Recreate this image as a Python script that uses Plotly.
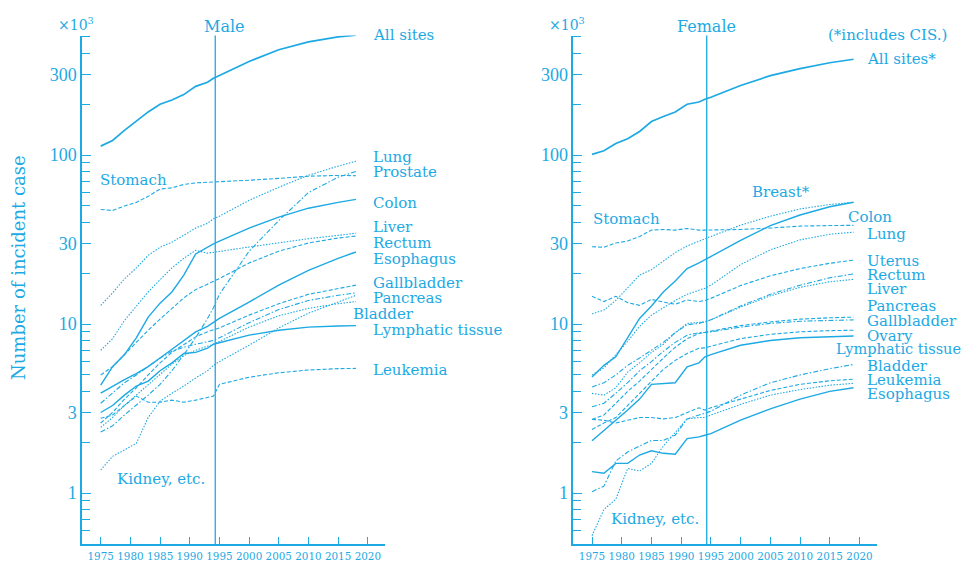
import math
import plotly.graph_objects as go

# ---------------- data (x10^3 incident cases) ----------------
M_YEARS = [1975, 1977, 1979, 1981, 1983, 1985, 1987, 1989, 1991, 1993, 1994, 1995, 2000, 2005, 2010, 2015, 2018]
M_ALL       = [113, 122, 140, 158, 180, 200, 212, 228, 255, 270, 285, 296, 358, 420, 468, 500, 512]
M_STOMACH   = [47.7, 47, 50, 52.5, 57, 63, 64, 67, 68.5, 69, 69.4, 69.7, 71, 72.8, 75, 75.8, 75.5]
M_LUNG      = [12.9, 15.3, 18.5, 21.5, 25.5, 28.5, 30.5, 33.5, 37, 39.5, 42, 43.5, 54, 64.5, 76, 86, 92]
M_PROSTATE  = [2.3, 2.5, 2.9, 3.3, 3.8, 4.4, 5.3, 6.6, 8.3, 10.8, 12.5, 15, 27, 41, 60, 74, 80]
M_COLON     = [4.35, 5.6, 6.6, 8.3, 11.0, 13.3, 15.5, 19.5, 26, 28.7, 29.8, 31, 37, 43, 48.5, 52.5, 54.7]
M_LIVER     = [7.0, 8.2, 10.5, 12.8, 15.5, 18.3, 21.5, 24.5, 27.3, 26.3, 26.5, 26.9, 28.6, 30.3, 32, 33.5, 34.5]
M_RECTUM    = [5.0, 5.6, 6.6, 7.8, 9.2, 10.7, 12.3, 14.3, 16, 17.2, 17.8, 18.6, 23, 27, 30.2, 32.3, 33.2]
M_ESOPHAGUS = [3.9, 4.3, 4.7, 5.1, 5.6, 6.3, 7.1, 8.0, 9.0, 9.7, 10.3, 10.8, 13.5, 17, 20.8, 24.5, 26.7]
M_GALL      = [2.6, 3.0, 3.6, 4.2, 5.0, 5.9, 6.8, 7.6, 8.4, 9.0, 9.2, 9.5, 11.3, 13.2, 15, 16.3, 17]
M_PANCREAS  = [3.4, 3.9, 4.5, 5.0, 5.6, 6.3, 6.9, 7.3, 7.6, 7.9, 8.0, 8.3, 10.2, 12.2, 13.8, 14.8, 15.3]
M_BLADDER   = [2.45, 2.8, 3.3, 3.8, 4.4, 5.1, 5.8, 6.5, 7.0, 7.4, 7.6, 7.9, 9.6, 11.2, 12.4, 13.2, 13.6]
M_LYMPH     = [3.0, 3.3, 3.8, 4.3, 4.6, 5.3, 5.9, 6.7, 6.8, 7.2, 7.6, 7.75, 8.6, 9.2, 9.6, 9.75, 9.8]
M_LEUKEMIA  = [2.77, 2.9, 3.3, 3.75, 3.45, 3.45, 3.55, 3.45, 3.55, 3.7, 3.75, 4.4, 4.85, 5.15, 5.35, 5.45, 5.47]
M_KIDNEY    = [1.37, 1.65, 1.8, 1.97, 2.8, 3.5, 3.9, 4.3, 4.8, 5.3, 5.7, 6.0, 7.5, 9.5, 11.6, 13.6, 14.8]

F_YEARS = [1975, 1977, 1979, 1981, 1983, 1985, 1987, 1989, 1991, 1993, 1994, 1995, 2000, 2005, 2010, 2015, 2019]
F_ALL       = [101, 106, 117, 125, 138, 158, 169, 180, 200, 206, 214, 220, 258, 295, 325, 352, 369]
F_STOMACH   = [28.7, 28.5, 30.2, 31, 33, 36, 36.3, 36, 36.8, 36, 36, 36, 36.3, 37, 38, 38.3, 38.4]
F_BREAST    = [11.5, 12.1, 13.8, 16.5, 19.5, 21, 23.5, 26.5, 29, 31, 32, 33, 38.5, 43.5, 48, 51, 52.6]
F_COLON     = [4.87, 5.7, 6.4, 8.3, 10.8, 12.8, 15.5, 18.0, 21.3, 23.0, 24, 25, 31.3, 38.3, 44.2, 49.5, 52.6]
F_LUNG      = [5.0, 5.5, 6.6, 7.9, 9.7, 11.3, 12.5, 13.8, 15, 15.8, 16.3, 17, 22.5, 27.5, 31.5, 34, 35]
F_UTERUS    = [14.6, 13.6, 14.6, 13.4, 12.9, 14.0, 13.5, 13.1, 13.9, 13.6, 13.8, 14.2, 16.9, 19.3, 21.3, 22.9, 23.9]
F_RECTUM    = [4.25, 4.5, 5.0, 5.7, 6.3, 7.0, 7.8, 8.9, 9.9, 10.1, 10.3, 10.6, 12.8, 15.0, 17.0, 18.8, 19.8]
F_LIVER     = [3.89, 3.8, 4.2, 5.2, 5.9, 6.8, 7.6, 8.9, 10.1, 10.2, 10.3, 10.6, 12.6, 14.7, 16.5, 17.8, 18.4]
F_PANCREAS  = [2.73, 2.9, 3.4, 4.0, 4.6, 5.4, 6.3, 7.3, 8.2, 8.8, 8.94, 9.1, 9.8, 10.3, 10.7, 10.9, 11.0]
F_GALL      = [3.24, 3.4, 3.9, 4.5, 5.3, 6.0, 6.9, 7.8, 8.6, 8.9, 8.94, 9.0, 9.6, 10.1, 10.4, 10.55, 10.6]
F_OVARY     = [2.38, 2.6, 2.8, 3.3, 3.9, 4.6, 5.4, 6.1, 6.7, 7.2, 7.23, 7.4, 8.2, 8.7, 9.0, 9.15, 9.2]
F_LYMPH     = [2.04, 2.36, 2.7, 3.1, 3.6, 4.4, 4.46, 4.5, 5.58, 5.9, 6.4, 6.6, 7.5, 8.0, 8.3, 8.45, 8.5]
F_BLADDER   = [1.02, 1.1, 1.55, 1.75, 1.9, 2.05, 2.05, 2.2, 2.75, 2.9, 2.95, 3.05, 3.8, 4.5, 5.0, 5.45, 5.77]
F_LEUKEMIA  = [2.73, 2.7, 2.6, 2.7, 2.8, 2.8, 2.75, 2.8, 3.0, 3.2, 3.1, 3.2, 3.6, 4.05, 4.4, 4.62, 4.72]
F_KIDNEY    = [0.56, 0.8, 0.92, 1.4, 1.35, 1.5, 1.9, 2.3, 2.75, 2.8, 2.8, 2.9, 3.35, 3.8, 4.1, 4.35, 4.46]
F_ESOPHAGUS = [1.34, 1.31, 1.5, 1.5, 1.68, 1.78, 1.72, 1.7, 2.1, 2.15, 2.2, 2.25, 2.7, 3.15, 3.6, 4.0, 4.2]

DIVIDER_YEAR = 1994.3
X_TICKS = [1975, 1980, 1985, 1990, 1995, 2000, 2005, 2010, 2015, 2020]
Y_TICKS = [1, 3, 10, 30, 100, 300]
Y_MINOR = [0.6, 0.7, 0.8, 0.9, 2, 4, 5, 6, 7, 8, 9, 20, 40, 50, 60, 70, 80, 90, 200, 400, 500]

# ---------------- styling ----------------
C = "#1DA9E3"
SERIF = "DejaVu Serif"
STY = {
    "solid": dict(color=C, width=1.4, dash="solid"),
    "thick": dict(color=C, width=1.7, dash="solid"),
    "dash": dict(color=C, width=1.1, dash="4px,2px"),
    "dot": dict(color=C, width=1.1, dash="1.5px,1.5px"),
    "dashdot": dict(color=C, width=1.1, dash="5px,2px,1.5px,2px"),
}

male = [
    (M_ALL, "thick"), (M_STOMACH, "dash"), (M_LUNG, "dot"), (M_PROSTATE, "dashdot"),
    (M_COLON, "solid"), (M_LIVER, "dot"), (M_RECTUM, "dash"), (M_ESOPHAGUS, "solid"),
    (M_GALL, "dash"), (M_PANCREAS, "dashdot"), (M_BLADDER, "dot"), (M_LYMPH, "solid"),
    (M_LEUKEMIA, "dash"), (M_KIDNEY, "dot"),
]
female = [
    (F_ALL, "thick"), (F_STOMACH, "dash"), (F_BREAST, "dot"), (F_COLON, "solid"),
    (F_LUNG, "dot"), (F_UTERUS, "dash"), (F_RECTUM, "dashdot"), (F_LIVER, "dot"),
    (F_PANCREAS, "dash"), (F_GALL, "dashdot"), (F_OVARY, "dash"), (F_LYMPH, "solid"),
    (F_BLADDER, "dashdot"), (F_LEUKEMIA, "dash"), (F_KIDNEY, "dot"), (F_ESOPHAGUS, "solid"),
]

fig = go.Figure()
for vals, s in male:
    fig.add_trace(go.Scatter(x=M_YEARS, y=vals, mode="lines", line=STY[s],
                             xaxis="x", yaxis="y", showlegend=False, hoverinfo="skip"))
for vals, s in female:
    fig.add_trace(go.Scatter(x=F_YEARS, y=vals, mode="lines", line=STY[s],
                             xaxis="x2", yaxis="y2", showlegend=False, hoverinfo="skip"))

# page body adds an 8px offset; work in screen pixels and convert
OFF = 8
W, H = 972 - OFF, 562 - OFF


def px(x):
    return (x - OFF) / W


def py(y):
    return 1 - (y - OFF) / H


YDOM = [py(544), py(35.5)]


def xax(domain, anchor):
    return dict(domain=domain, anchor=anchor, range=[1971.85, 2022.9], showgrid=False,
                zeroline=False, showline=True, linecolor=C, linewidth=1.5,
                tickmode="array", tickvals=X_TICKS, ticks="inside", ticklen=7,
                tickcolor=C, tickwidth=1.2, tickangle=0,
                tickfont=dict(family="DejaVu Serif Condensed, Liberation Serif", size=11.5, color=C))


def yax(anchor):
    return dict(domain=YDOM, anchor=anchor, type="log",
                range=[math.log10(0.5), math.log10(510)], showgrid=False, zeroline=False,
                showline=True, linecolor=C, linewidth=1.5,
                tickmode="array", tickvals=Y_TICKS, ticktext=[str(v) for v in Y_TICKS],
                ticks="inside", ticklen=9, tickcolor=C, tickwidth=1.2,
                tickfont=dict(family="Liberation Serif", size=18, color=C),
                minor=dict(tickmode="array", tickvals=Y_MINOR, ticks="inside", ticklen=8,
                           tickcolor=C, tickwidth=1.2, showgrid=False))


fig.update_layout(
    width=W, height=H, margin=dict(l=0, r=0, t=0, b=0, autoexpand=False),
    paper_bgcolor="white", plot_bgcolor="white",
    xaxis=xax([px(82), px(385)], "y"), yaxis=yax("x"),
    xaxis2=xax([px(573.3), px(876.7)], "y2"), yaxis2=yax("x2"),
)

for xr, yr in (("x", "y domain"), ("x2", "y2 domain")):
    fig.add_shape(type="line", xref=xr, yref=yr, x0=DIVIDER_YEAR, x1=DIVIDER_YEAR, y0=0, y1=1,
                  line=dict(color=C, width=1.3))


def label(text, x, y, size=15, anchor="left"):
    fig.add_annotation(text=text, x=px(x), y=py(y), xref="paper", yref="paper",
                       xanchor=anchor, yanchor="middle", showarrow=False,
                       font=dict(family=SERIF, size=size, color=C))


# male labels
for t, yy in [("All sites", 35), ("Lung", 157), ("Prostate", 172), ("Colon", 203),
              ("Liver", 227), ("Rectum", 243), ("Esophagus", 259), ("Gallbladder", 283),
              ("Pancreas", 298), ("Lymphatic tissue", 330), ("Leukemia", 370)]:
    label(t, 371, yy)
label("Bladder", 351, 314)
label("Stomach", 98, 180)
label("Kidney, etc.", 115, 479)
label("Male", 224, 26, size=16, anchor="center")
label("×10<sup>3</sup>", 56, 24, size=14)

# female labels
for t, yy in [("All sites*", 59), ("Lung", 234), ("Uterus", 261), ("Rectum", 275),
              ("Liver", 289), ("Pancreas", 306), ("Gallbladder", 321), ("Ovary", 336),
              ("Bladder", 366), ("Leukemia", 380), ("Esophagus", 394)]:
    label(t, 865, yy)
label("(*includes CIS.)", 826, 35)
label("Breast*", 750, 192)
label("Colon", 846, 217)
label("Lymphatic tissue", 834, 349, size=14.5)
label("Stomach", 591, 219)
label("Kidney, etc.", 609, 519)
label("Female", 706, 26, size=16, anchor="center")
label("×10<sup>3</sup>", 547, 24, size=14)

# y-axis title
fig.add_annotation(text="Number of incident case", x=px(18), y=py(268), xref="paper",
                   yref="paper", textangle=-90, showarrow=False, xanchor="center",
                   yanchor="middle", font=dict(family=SERIF, size=18, color=C))

fig.write_html("out.html")
